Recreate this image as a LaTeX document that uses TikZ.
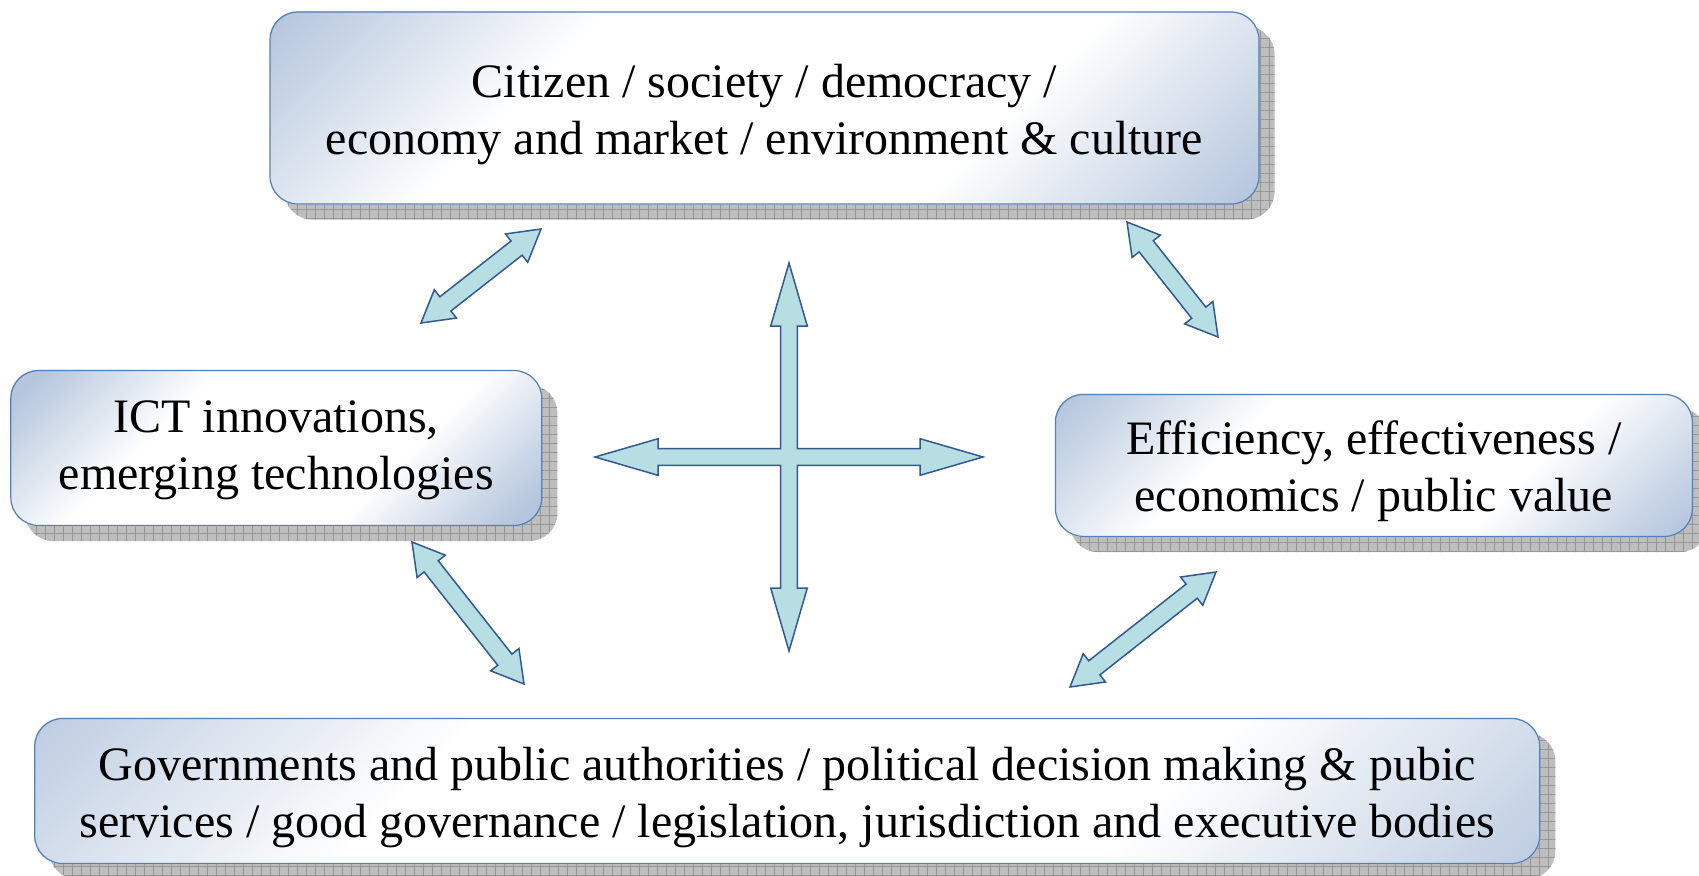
\documentclass[tikz,border=0pt]{standalone}
\usepackage{fontspec}
\setmainfont{Liberation Serif}
\usetikzlibrary{calc,backgrounds,patterns.meta}
\definecolor{boxblue}{RGB}{180,197,221}
\definecolor{boxline}{RGB}{84,128,186}
\definecolor{arrfill}{RGB}{183,222,227}
\definecolor{arrline}{RGB}{50,90,145}
\definecolor{shgray}{RGB}{190,190,190}
\definecolor{shline}{RGB}{150,150,150}
\pgfdeclareverticalshading{boxshade}{100bp}{color(0bp)=(boxblue); color(29bp)=(boxblue); color(41bp)=(white); color(59bp)=(white); color(71bp)=(boxblue); color(100bp)=(boxblue)}
\tikzset{
  box/.style={draw=boxline, line width=1.2pt, rounded corners=28pt, inner sep=0pt, align=center, font=\fontsize{48}{57}\selectfont},
  shadowbox/.style={rounded corners=28pt, fill=shgray, postaction={pattern={Hatch[angle=0,distance=9pt,line width=0.8pt]}, pattern color=shline}},
  arrowshape/.style={draw=arrline, fill=arrfill, line width=1.5pt, line join=miter}
}
\newcommand{\dbarrow}[5]{%
  \path ($(#1)!#5!(#2)$) coordinate (da1) ($(#2)!#5!(#1)$) coordinate (db1);
  \draw[arrowshape] (#1) -- ($(da1)!#4!90:(#2)$) -- ($(da1)!#3!90:(#2)$) -- ($(db1)!#3!-90:(#1)$) -- ($(db1)!#4!-90:(#1)$) -- (#2) -- ($(db1)!#4!90:(#1)$) -- ($(db1)!#3!90:(#1)$) -- ($(da1)!#3!-90:(#2)$) -- ($(da1)!#4!-90:(#2)$) -- cycle;
}
\begin{document}
\begin{tikzpicture}[x=1pt,y=-1pt]
\useasboundingbox (0,0) rectangle (1699,875);
\node[box, minimum width=989pt, minimum height=192pt] (top) at (764.5,108) {\rule{0pt}{46pt}Citizen / society / democracy /\\economy and market / environment \& culture};
\node[box, minimum width=531pt, minimum height=155pt] (left) at (276.3,448) {\rule{0pt}{36pt}ICT innovations,\\emerging technologies};
\node[box, minimum width=637pt, minimum height=142pt] (right) at (1373.9,465.4) {\rule{0pt}{46pt}Efficiency, effectiveness /\\economics / public value};
\node[box, minimum width=1505pt, minimum height=145pt] (bot) at (787.2,791) {\rule{0pt}{46pt}Governments and public authorities / political decision making \& pubic\\services / good governance / legislation, jurisdiction and executive bodies};
\begin{scope}[on background layer]
\foreach \n/\r in {top/494.5,left/265.5,right/318.5,bot/752.5}{
  \path[shadowbox] ([shift={(15pt,-15pt)}]\n.north west) rectangle ([shift={(15pt,-15pt)}]\n.south east);
  \begin{scope}
    \clip[rounded corners=28pt] (\n.north west) rectangle (\n.south east);
    \shade[shading=boxshade, shading angle=45] ([shift={(-\r pt,-\r pt)}]\n.center) rectangle ([shift={(\r pt,\r pt)}]\n.center);
  \end{scope}
}
\end{scope}
% diagonal double arrows
\coordinate (a1s) at (421,323); \coordinate (a1e) at (541,229);
\coordinate (a2s) at (1127,222); \coordinate (a2e) at (1218,337);
\coordinate (a3s) at (412,542); \coordinate (a3e) at (524,684);
\coordinate (a4s) at (1216,572); \coordinate (a4e) at (1070,687);
\dbarrow{a1s}{a1e}{9pt}{18pt}{31pt}
\dbarrow{a2s}{a2e}{9pt}{18pt}{31pt}
\dbarrow{a3s}{a3e}{9pt}{18pt}{31pt}
\dbarrow{a4s}{a4e}{9pt}{18pt}{31pt}
% four-way cross arrow
\coordinate (c) at (789,457);
\begin{scope}[shift={(c)}]
\draw[arrowshape] (0,-194) -- (18.3,-131) -- (8.3,-131) -- (8.3,-8.3) -- (131,-8.3) -- (131,-18.3) -- (194,0) -- (131,18.3) -- (131,8.3) -- (8.3,8.3) -- (8.3,131) -- (18.3,131) -- (0,194) -- (-18.3,131) -- (-8.3,131) -- (-8.3,8.3) -- (-131,8.3) -- (-131,18.3) -- (-194,0) -- (-131,-18.3) -- (-131,-8.3) -- (-8.3,-8.3) -- (-8.3,-131) -- (-18.3,-131) -- cycle;
\end{scope}
\end{tikzpicture}
\end{document}
